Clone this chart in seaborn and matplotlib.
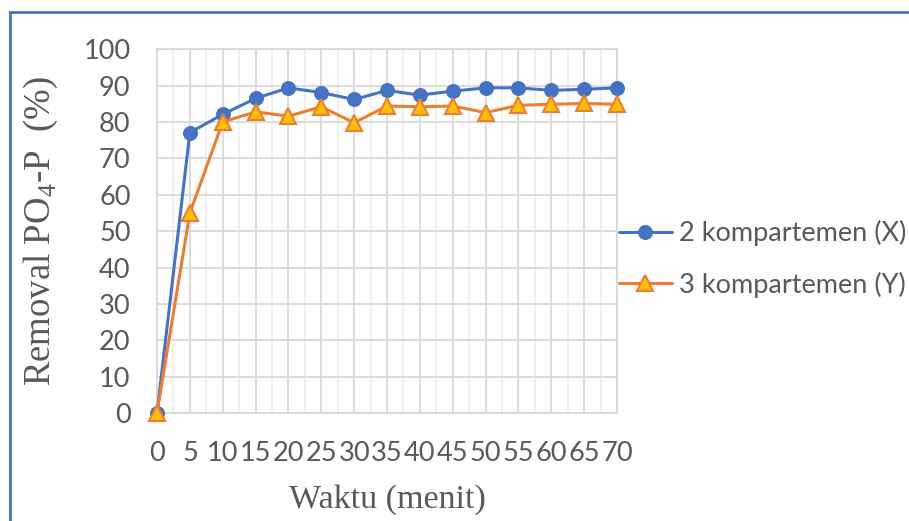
import matplotlib
matplotlib.use("Agg")
import matplotlib.pyplot as plt
from matplotlib.patches import Rectangle
from matplotlib.ticker import MultipleLocator
import pandas as pd
import seaborn as sns

# Removal of PO4-P over time for two reactor configurations
waktu = [0, 5, 10, 15, 20, 25, 30, 35, 40, 45, 50, 55, 60, 65, 70]
removal_x = [0, 77.1, 82.1, 86.5, 89.4, 88.1, 86.2, 88.7, 87.4, 88.5, 89.4, 89.4, 88.7, 89.0, 89.4]
removal_y = [0, 55.0, 80.0, 82.8, 81.6, 84.2, 79.8, 84.4, 84.2, 84.4, 82.6, 84.6, 84.9, 85.1, 84.9]
series_names = ["2 kompartemen (X)", "3 kompartemen (Y)"]
y_ticks = [0, 10, 20, 30, 40, 50, 60, 70, 80, 90, 100]

df_x = pd.DataFrame({"Waktu": waktu, "Removal": removal_x})
df_y = pd.DataFrame({"Waktu": waktu, "Removal": removal_y})

sns.set_theme(style="white")
plt.rcParams["font.family"] = ["Lato", "DejaVu Sans"]
plt.rcParams["mathtext.fontset"] = "custom"
plt.rcParams["mathtext.rm"] = "Liberation Serif"

TEXT = "#595959"
GRID = "#D9D9D9"
GRID_MINOR = "#EFEFEF"
BLUE = "#4472C4"
ORANGE = "#ED7D31"
GOLD = "#FFC000"

fig = plt.figure(figsize=(9.09, 5.21), dpi=100)
ax = fig.add_axes([157 / 909, 1 - 413 / 521, (617 - 157) / 909, (413 - 49.3) / 521])

sns.lineplot(data=df_x, x="Waktu", y="Removal", ax=ax, color=BLUE, linewidth=2.2,
             marker="o", markersize=10, markerfacecolor=BLUE, markeredgecolor=BLUE,
             label=series_names[0], clip_on=False, zorder=4)
sns.lineplot(data=df_y, x="Waktu", y="Removal", ax=ax, color=ORANGE, linewidth=2.2,
             marker="^", markersize=12, markerfacecolor=GOLD, markeredgecolor=ORANGE,
             markeredgewidth=1.5, label=series_names[1], clip_on=False, zorder=5)

ax.set_xlim(0, 70)
ax.set_ylim(0, 100)
ax.set_xticks(waktu)
ax.set_yticks(y_ticks)
ax.xaxis.set_minor_locator(MultipleLocator(2.5))
ax.grid(True, which="major", axis="both", color=GRID, linewidth=1.3, zorder=0)
ax.grid(True, which="minor", axis="x", color=GRID_MINOR, linewidth=1.3, zorder=0)
ax.set_axisbelow(True)
for s in ax.spines.values():
    s.set_color(GRID)
    s.set_linewidth(1.3)

ax.tick_params(axis="both", which="both", length=0, labelsize=19.5, labelcolor=TEXT)
ax.tick_params(axis="y", pad=19)
ax.tick_params(axis="x", pad=20)

serif = ["Liberation Serif", "DejaVu Serif"]
ax.set_xlabel("Waktu (menit)", family=serif, fontsize=24.5, color=TEXT, labelpad=13)
ax.set_ylabel("Removal PO$_4$-P  (%)", family=serif, fontsize=26.5, color=TEXT, labelpad=17)

ax.legend_.remove()
handles, labels = ax.get_legend_handles_labels()
fig.legend(handles, labels, loc="center left", bbox_to_anchor=(619 / 909, 1 - 259 / 521),
           frameon=False, fontsize=19.5, labelcolor=TEXT, handlelength=1.95,
           handletextpad=0.25, labelspacing=0.95, borderpad=0, borderaxespad=0)

# chart-area border
fig.patches.append(Rectangle((10 / 909, -0.05), 1.1, 1 - 12 / 521 + 0.05,
                             transform=fig.transFigure, fill=False,
                             edgecolor=BLUE, linewidth=2))

fig.savefig("out.png", dpi=100, facecolor="white")
